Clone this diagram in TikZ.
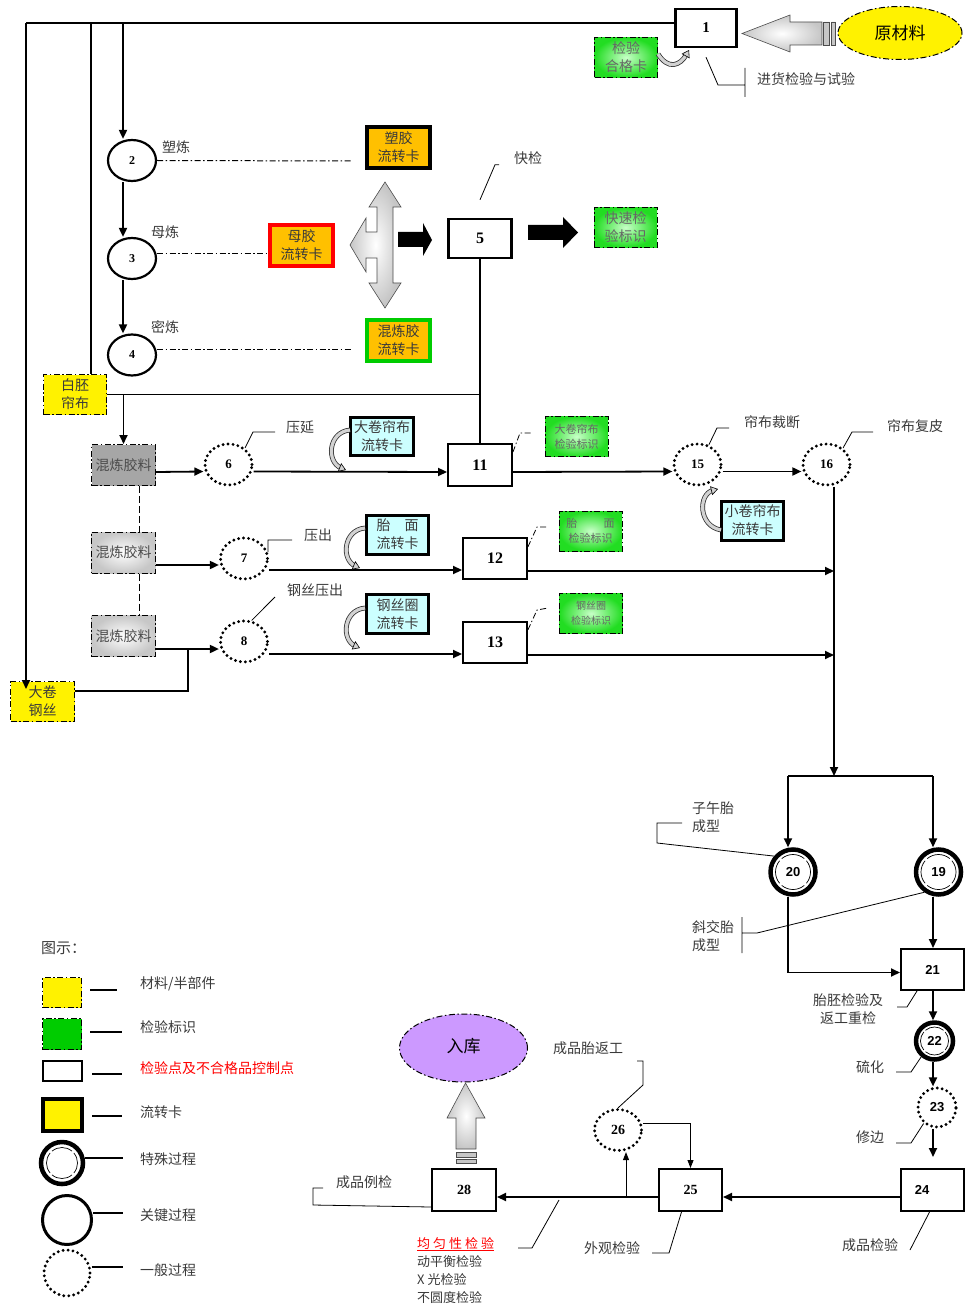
\documentclass[tikz,border=0pt]{standalone}
\usepackage{fontspec}
\setmainfont{Liberation Serif}
\newfontfamily\cjk{Noto Sans CJK SC}
\newfontfamily\arialf{Liberation Sans}
\usetikzlibrary{shapes.geometric,arrows.meta,calc}
\definecolor{cardor}{HTML}{FFC000}
\definecolor{cyanc}{HTML}{CCFFFF}
\definecolor{grn}{HTML}{00CC00}
\definecolor{grno}{HTML}{22DD22}
\definecolor{grnl}{HTML}{C8FFC8}
\definecolor{purp}{HTML}{CC99FF}
\definecolor{txt}{HTML}{3A3A3A}
\newcommand\curlarr[4]{%
 \draw[line width=4.8pt,black!80,shorten >=5pt] (#1) .. controls (#2) and (#3) .. (#4);
 \draw[line width=3.2pt,gray!35,shorten >=5pt] (#1) .. controls (#2) and (#3) .. (#4);
 \draw[line width=0.6pt,-{Triangle[length=7pt,width=9pt,fill=gray!35]}] ($(#3)!0.85!(#4)$) -- (#4);}
\newcommand\ringarcs[2]{\foreach \a in {50,140,230,320}{\draw[line width=0.7pt] (#1) ++(\a:#2) arc[start angle=\a, end angle=\a+80, radius=#2];}}
\tikzset{
 arr/.style={line width=1.8pt,-{Triangle[length=9pt,width=8pt]}},
 tarr/.style={line width=0.9pt,-{Triangle[length=8pt,width=6pt]}},
 conn/.style={line width=1.8pt},
 lead/.style={line width=0.8pt},
 ddot/.style={dash pattern=on 6pt off 2.5pt on 1.5pt off 2.5pt},
 pbox/.style={draw,line width=2.4pt,fill=white,inner sep=0pt,minimum width=62,minimum height=40,font=\bfseries\fontsize{16}{16}\selectfont},
 kcirc/.style={ellipse,draw,line width=2.2pt,fill=white,inner sep=0pt,minimum width=48,minimum height=41,font=\bfseries\fontsize{12}{12}\selectfont},
 gcirc/.style={ellipse,draw,line width=3.2pt,dash pattern=on 0pt off 5pt,line cap=round,fill=white,inner sep=0pt,minimum width=47,minimum height=41,font=\bfseries\fontsize{13}{13}\selectfont},
 scirc/.style={circle,draw,line width=4.5pt,fill=white,inner sep=0pt,minimum size=45,font=\arialf\bfseries\fontsize{13}{13}\selectfont},
 lab/.style={font=\cjk\fontsize{14}{18}\selectfont,text=txt,inner sep=0pt,align=center},
 matbox/.style={draw,line width=1pt,ddot,fill=yellow,inner sep=0pt,font=\cjk\fontsize{14}{18}\selectfont,text=txt,align=center},
 chkbox/.style={draw,line width=1pt,ddot,inner color=grnl,outer color=grno,inner sep=0pt,minimum width=63,minimum height=40,font=\cjk\fontsize{14}{18}\selectfont,text=black!60,align=center},
 mixbox/.style={draw,line width=1pt,ddot,inner sep=0pt,minimum width=64,minimum height=41,font=\cjk\fontsize{14}{14}\selectfont,text=black!70},
 ocard/.style={draw,line width=4pt,fill=cardor,inner sep=0pt,minimum width=63,minimum height=41,font=\cjk\fontsize{14}{18}\selectfont,text=txt,align=center},
 ccard/.style={draw,line width=3pt,fill=cyanc,inner sep=0pt,minimum width=62,minimum height=39,font=\cjk\fontsize{14}{18}\selectfont,text=txt,align=center},
}
\begin{document}
\begin{tikzpicture}[x=1pt,y=-1pt]
\useasboundingbox (0,0) rectangle (965,1305);

% ---------------- top ----------------
\node[pbox,minimum width=61,minimum height=38,font=\bfseries\fontsize{15}{15}\selectfont] (b1) at (706,28) {1};
\node[ellipse,draw,ddot,line width=1pt,fill=yellow,minimum width=124,minimum height=53,inner sep=0pt,font=\cjk\fontsize{17}{17}\selectfont] (raw) at (900,33) {原材料};
\shadedraw[inner color=white,outer color=gray!45,draw=black!70,line width=0.6pt] (742,33.5) -- (790,15) -- (790,22) -- (822,22) -- (822,45) -- (790,45) -- (790,52) -- cycle;
\filldraw[fill=gray!45,draw=black!70,line width=0.6pt] (823.5,22) rectangle (829.5,45) (831.5,22) rectangle (835.5,45);
\node[chkbox] (g1) at (626,57.5) {检验\\合格卡};
\curlarr{658,54}{668,70}{680,66}{689,50}
\node[lab,anchor=west] (t1) at (757,79) {进货检验与试验};
\draw[lead] ([yshift=-9pt]b1.south) -- (718,85) -- (745,85) (745,68) -- (745,97);

% ---------------- mixing ----------------
\node[kcirc] (c2) at (132,160.5) {2};
\node[kcirc] (c3) at (132,258.5) {3};
\node[kcirc] (c4) at (132,355) {4};
\node[lab] (t2) at (176,147) {塑炼};
\node[lab] (t3) at (165,232) {母炼};
\node[lab] (t4) at (165,327) {密炼};
\node[ocard] (scard) at (398.5,147.5) {塑胶\\流转卡};
\node[ocard,draw=red] (mcard) at (301.5,245.5) {母胶\\流转卡};
\node[ocard,draw=grn] (hcard) at (398.5,340.5) {混炼胶\\流转卡};
\coordinate (d2) at (352,161);
\coordinate (d4) at (352,349);
\draw[line width=1pt,ddot] (c2.east) -- (d2);
\draw[line width=1pt,ddot] ([yshift=4.5pt]c3.east) -- ([yshift=4.5pt]c3.east -| mcard.west);
\draw[line width=1pt,ddot] ([yshift=6pt]c4.east) -- (d4);
\draw[arr] ([xshift=-9pt]c2.south) -- ([xshift=-9pt]c3.north);
\draw[arr] ([xshift=-9pt]c3.south) -- ([xshift=-9pt]c4.north);
% four-way arrow
\shadedraw[inner color=white,outer color=gray!45,draw=black!70,line width=0.6pt]
 (385,182) -- (401,207) -- (393,207) -- (393,283) -- (401,283) -- (385,308) -- (369,283) -- (377,283) -- (377,258) -- (366,258) -- (366,272) -- (350,245) -- (366,218) -- (366,232) -- (377,232) -- (377,207) -- (369,207) -- cycle;
\fill (398,232) -- (423,232) -- (423,223) -- (432,240) -- (423,256) -- (423,247) -- (398,247) -- cycle;
\node[pbox,minimum width=63,minimum height=39] (b5) at (480,238.5) {5};
\node[lab] (tq) at (528,158) {快检};
\draw[lead] ([yshift=18pt]b5.north) -- ++(15,-35) -- ++(4,0);
\fill (528,225) -- (563,225) -- (563,217) -- (578,232.5) -- (563,248) -- (563,240) -- (528,240) -- cycle;
\node[chkbox] (gq) at (625.5,227.5) {快速检\\验标识};

% ---------------- materials ----------------
\node[matbox,minimum width=63,minimum height=40] (wb) at (75,394.5) {白胚\\帘布};
\node[matbox,minimum width=64,minimum height=40] (wire) at (42.5,701.5) {大卷\\钢丝};
\node[mixbox,fill=black!35] (mixA) at (123.5,465) {混炼胶料};
\node[mixbox,inner color=white,outer color=black!22] (mixB) at (123.5,552.5) {混炼胶料};
\node[mixbox,inner color=white,outer color=black!22] (mixC) at (123.5,636) {混炼胶料};
\node[gcirc] (c6) at (228.5,464.5) {6};
\node[gcirc] (c7) at (244,558.5) {7};
\node[gcirc] (c8) at (244,641.5) {8};
\node[lab] (t6) at (300,427) {压延};
\node[lab] (t7) at (318,535) {压出};
\node[lab] (t8) at (315,590) {钢丝压出};
\draw[lead] (c6.45) -- (253,432) -- (275,432);
\draw[lead] (c7.15) -- (268,540) -- (292,540);
\draw[lead] (c8.70) -- (275,597);
\node[ccard,minimum width=63,minimum height=38] (cc1) at (382,436.5) {大卷帘布\\流转卡};
\node[ccard] (cc2) at (397.5,534.5) {胎\hspace{1em}面\\流转卡};
\node[ccard] (cc3) at (397.5,614) {钢丝圈\\流转卡};
\node[pbox,minimum width=63.5,minimum height=41.5] (b11) at (480,465) {11};
\node[pbox,minimum width=63.5,minimum height=41] (b12) at (495,558.5) {12};
\node[pbox,minimum width=63.5,minimum height=41] (b13) at (495,642.5) {13};
\node[chkbox,font=\cjk\fontsize{11}{15}\selectfont] (g11) at (576.5,436.5) {大卷帘布\\检验标识};
\node[chkbox,font=\cjk\fontsize{11}{15}\selectfont] (g12) at (590.5,531) {胎\hspace{2.4em}面\\检验标识};
\node[chkbox,font=\cjk\fontsize{10}{15}\selectfont] (g13) at (591,613.5) {钢丝圈\\检验标识};
\draw[line width=0.8pt,ddot] ([yshift=-9pt]b11.north east) -- (520,433) -- (533,433);
\draw[line width=0.8pt,ddot] ([yshift=-10pt]b12.north east) -- (537,527) -- (547,527);
\draw[line width=0.8pt,ddot] ([yshift=-9pt]b13.north east) -- (537,610) -- (548,608);
\node[gcirc] (c15) at (697.5,464.5) {15};
\node[gcirc] (c16) at (826.5,464.5) {16};
\node[lab] (t15) at (772,422) {帘布裁断};
\node[lab] (t16) at (915,426) {帘布复皮};
\draw[lead] (c15.60) -- (717,428) -- (729,428);
\draw[lead] (c16.45) -- (852,432) -- (873,432);
\node[ccard] (cc4) at (752.5,520.5) {小卷帘布\\流转卡};

% connectors of the middle part
\coordinate (TL) at (26,23);
\coordinate (T91) at (91,23);
\coordinate (T123) at (123,23);
\coordinate (wtip) at (26,689);
\coordinate (wj) at (188,649);
\coordinate (V) at (834,0);
\draw[conn] ([yshift=5pt]b1.west) -- (TL);
\draw[arr] (TL) -- (wtip);
\draw[conn] (T91) -- (T91 |- wb.north);
\draw[arr] (T123) -- (T123 |- c2.north);
\draw[conn] (wb.east) -- (wb.east -| b5.south);
\draw[conn] (b5.south) -- (b11.north);
\draw[arr] (mixA.north |- wb.east) -- (mixA.north);
\draw[line width=1pt,dash pattern=on 7pt off 3pt] ([xshift=15.5pt]mixA.south) -- ([xshift=15.5pt]mixB.north);
\draw[line width=1pt,dash pattern=on 7pt off 3pt] ([xshift=15.5pt]mixB.south) -- ([xshift=15.5pt]mixC.north);
\draw[arr] ([yshift=-7pt]mixA.east) -- ([yshift=-7pt]c6.west);
\draw[arr] ([yshift=-12.5pt]mixB.east) -- ([yshift=-6.5pt]c7.west);
\draw[arr] ([yshift=-13pt]mixC.east) -- ([yshift=-7.5pt]c8.west);
\draw[conn] ([yshift=10.5pt]wire.east) -| (wj);
\draw[arr] ([yshift=-7pt]c6.east) -- ([yshift=-7pt]b11.west);
\draw[arr] ([yshift=-11.5pt]c7.east) -- ([yshift=-11.5pt]b12.west);
\draw[arr] ([yshift=-12.5pt]c8.east) -- ([yshift=-11.5pt]b13.west);
\draw[arr] ([yshift=-7pt]b11.east) -- ([yshift=-7pt]c15.west);
\draw[arr] ([yshift=-7pt]c15.east) -- ([yshift=-7pt]c16.west);
\coordinate (e12) at ([yshift=-12.5pt]b12.east);
\coordinate (e13) at ([yshift=-12.5pt]b13.east);
\draw[arr] (e12) -- (e12 -| V);
\draw[arr] (e13) -- (e13 -| V);
\coordinate (J) at (834,776);
\coordinate (JL) at (788,776);
\coordinate (JR) at (933,776);
\draw[arr] ([xshift=7.5pt]c16.south) -- (J);
\curlarr{350,430}{328,432}{326,462}{346,470}
\curlarr{365,528}{343,530}{341,560}{360,568}
\curlarr{365,608}{343,610}{341,640}{360,648}
\curlarr{721,530}{698,526}{698,494}{718,489}

% ---------------- building / curing ----------------
\node[scirc] (c20) at (793,872) {20};
\node[scirc] (c19) at (938.5,872) {19};
\ringarcs{c20.center}{17.5}
\ringarcs{c19.center}{17.5}
\node[pbox,minimum width=62.6,minimum height=40.6,font=\arialf\bfseries\fontsize{13}{13}\selectfont] (b21) at (932.5,969.5) {21};
\node[scirc,minimum size=37] (c22) at (934.5,1041) {22};
\ringarcs{c22.center}{14}
\node[gcirc,minimum width=38,minimum height=39,font=\arialf\bfseries\fontsize{13}{13}\selectfont] (c23) at (937,1107.5) {23};
\node[pbox,minimum width=62.6,minimum height=41.6,font=\arialf\bfseries\fontsize{13}{13}\selectfont] (b24) at (932.5,1190) {\hbox{24\kern21pt}};
\node[pbox,minimum width=62.6,minimum height=41.6,font=\bfseries\fontsize{14}{14}\selectfont] (b25) at (690.5,1190) {25};
\node[pbox,minimum width=63.6,minimum height=41.6,font=\bfseries\fontsize{14}{14}\selectfont] (b28) at (464,1190) {28};
\node[gcirc,font=\bfseries\fontsize{14}{14}\selectfont] (c26) at (618,1130) {26};
\node[ellipse,draw,ddot,line width=1pt,fill=purp,minimum width=128,minimum height=68,inner sep=0pt,font=\cjk\fontsize{17}{17}\selectfont] (ruku) at (463.5,1048) {\raisebox{5pt}{入库}};
\shadedraw[inner color=white,outer color=gray!45,draw=black!70,line width=0.6pt] (465.5,1083) -- (485,1118) -- (476,1118) -- (476,1149) -- (456,1149) -- (456,1118) -- (447,1118) -- cycle;
\filldraw[fill=gray!45,draw=black!70,line width=0.6pt] (456,1152) rectangle (476,1157) (456,1159) rectangle (476,1163);

\draw[conn] (JL) -- (JR);
\draw[arr] (JL) -- (JL |- c20.north);
\draw[arr] (JR) -- (JR |- c19.north);
\draw[arr] (JL |- c20.south) |- ([yshift=-3pt]b21.west);
\draw[arr] (JR |- c19.south) -- (JR |- b21.north);
\draw[arr] (JR |- b21.south) -- (JR |- c22.north);
\draw[arr] (JR |- c22.south) -- (JR |- c23.north);
\coordinate (a24) at (933,1157);
\draw[arr] (JR |- c23.south) -- (a24);
\draw[arr] ([yshift=-7pt]b24.west) -- ([yshift=-7pt]b25.east);
\draw[arr] ([yshift=-7pt]b25.west) -- ([yshift=-7pt]b28.east);
\coordinate (j26) at (626,1197);
\draw[tarr] (j26) -- (j26 |- c26.south);
\draw[tarr] ([yshift=7pt]c26.east) -| (b25.north);

\node[lab,anchor=west,align=left] (t20) at (692,817) {子午胎\\成型};
\draw[lead] (682,823) -- (657,823) -- (657,843) -- (c20.140);
\node[lab,anchor=west,align=left] (t19) at (692,936.5) {斜交胎\\成型};
\draw[lead] (742,917) -- (742,953) (742,933) -- (757,933) -- (c19.235);
\node[lab] (t21) at (848,1009) {胎胚检验及\\返工重检};
\draw[lead] ([xshift=17pt]b21.south west) -- (907,1007) -- (897,1007);
\node[lab] (t22) at (870,1067) {硫化};
\draw[lead] (c22.230) -- (911,1072) -- (896,1072);
\node[lab] (t23) at (870,1137) {修边};
\draw[lead] (c23.230) -- (911,1143) -- (896,1143);
\node[lab] (t24) at (870,1245) {成品检验};
\draw[lead] ([xshift=-3pt]b24.south) -- (910,1250);
\node[lab] (t25) at (612,1248) {外观检验};
\draw[lead] ([xshift=-9pt]b25.south) -- (669,1253) -- (652,1253);
\node[lab] (t26) at (588,1048) {成品胎返工};
\draw[lead] (c26.north) -- (643,1085) -- (643,1061) -- (637,1061);
\node[lab] (t28) at (364,1182) {成品例检};
\draw[lead] ([yshift=5pt]b28.south west) -- (313,1205) -- (313,1188) -- (323,1188);
\node[lab,anchor=west,align=left,font=\cjk\fontsize{13}{18}\selectfont] (tu) at (417,1270) {\textcolor{red}{\underline{均\kern3pt 匀\kern3pt 性\kern3pt 检\kern3pt 验}}\\动平衡检验\\X 光检验\\不圆度检验};
\draw[lead] (559,1200) -- (532,1248) -- (518,1248);

% ---------------- legend ----------------
\node[lab,anchor=west,font=\cjk\fontsize{15}{15}\selectfont] (lg) at (41,948) {图示：};
\node[matbox,minimum width=39,minimum height=30] (ly) at (62,992.5) {};
\node[draw,line width=1pt,ddot,fill=grn,minimum width=39,minimum height=31,inner sep=0pt] (lgn) at (62,1034) {};
\node[draw,line width=2pt,fill=white,minimum width=39,minimum height=20,inner sep=0pt] (lw) at (62.5,1071) {};
\node[draw,line width=4pt,fill=yellow,minimum width=39,minimum height=32,inner sep=0pt] (lc) at (62.5,1115) {};
\node[scirc,minimum size=42] (ls) at (62,1163) {};
\ringarcs{ls.center}{15.5}
\node[circle,draw,line width=3pt,minimum size=49,inner sep=0pt] (lk) at (67,1220) {};
\node[gcirc,minimum width=46,minimum height=46] (lo) at (67,1273) {};
\draw[line width=1.2pt] (90,990) -- (117,990);
\draw[line width=1.2pt] (90,1032) -- (122,1032);
\draw[line width=1.2pt] (92,1074) -- (122,1074);
\draw[line width=1.2pt] (92,1116) -- (122,1116);
\draw[line width=1.2pt] (ls.east |- 0,1158) -- (123,1158);
\draw[line width=1.2pt] (lk.east |- 0,1213) -- (123,1213);
\draw[line width=1.2pt] (lo.east |- 0,1267) -- (123,1267);
\node[lab,anchor=west] (l1) at (140,984) {材料/半部件};
\node[lab,anchor=west] (l2) at (140,1027) {检验标识};
\node[lab,anchor=west,text=red] (l3) at (140,1068) {检验点及不合格品控制点};
\node[lab,anchor=west] (l4) at (140,1112) {流转卡};
\node[lab,anchor=west] (l5) at (140,1159) {特殊过程};
\node[lab,anchor=west] (l6) at (140,1215) {关键过程};
\node[lab,anchor=west] (l7) at (140,1270) {一般过程};
\end{tikzpicture}
\end{document}
